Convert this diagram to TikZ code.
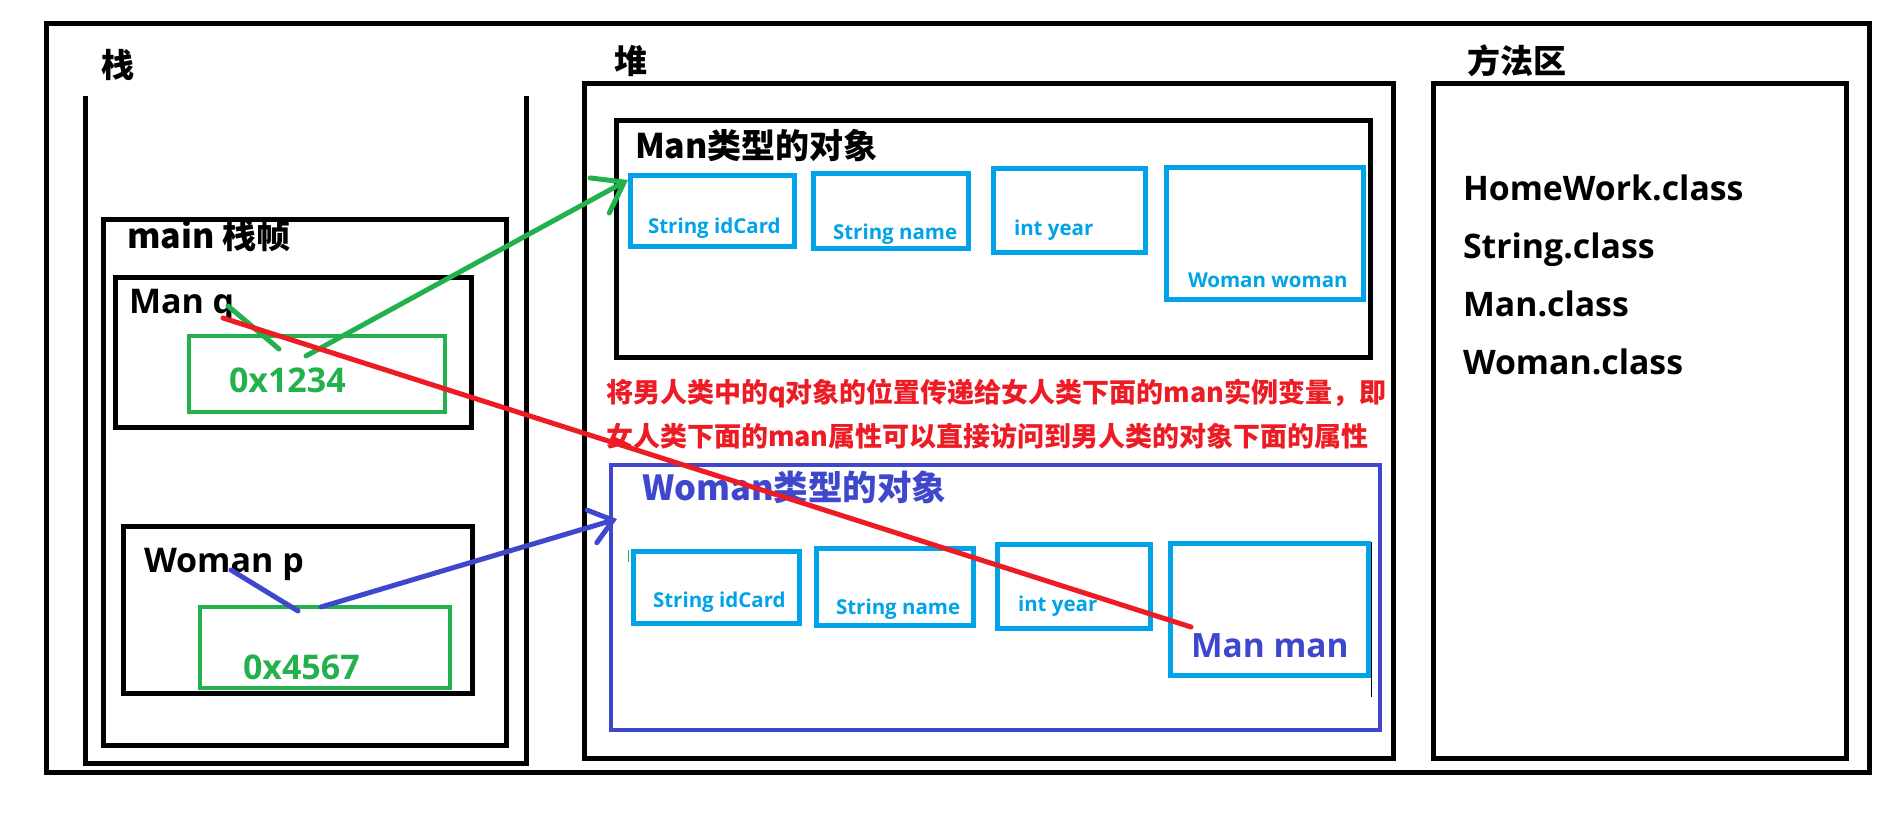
\documentclass[tikz,border=0pt]{standalone}
\usepackage{fontspec}
\setmainfont{Open Sans}
\newfontfamily\cjk{Noto Sans CJK SC}
\usetikzlibrary{arrows.meta}
\definecolor{pgreen}{HTML}{22B14C}
\definecolor{pblue}{HTML}{00A2E8}
\definecolor{pind}{HTML}{3F48CC}
\definecolor{pred}{HTML}{ED1C24}
\tikzset{
  box/.style={rectangle, inner sep=0pt, outer sep=0pt, draw=black, line width=5pt},
  gbox/.style={box, draw=pgreen, line width=4.5pt},
  fbox/.style={box, draw=pblue, line width=5pt},
  ibox/.style={box, draw=pind, line width=4.5pt},
  txt/.style={anchor=base west, inner sep=0pt, outer sep=0pt, font=\bfseries},
  fs/.style={font=\bfseries\fontsize{#1}{#1}\selectfont},
  cj/.style={font=\cjk\bfseries\fontsize{#1}{#1}\selectfont},
  gline/.style={draw=pgreen, line width=5pt, line cap=round},
  iline/.style={draw=pind, line width=5pt, line cap=round},
  rline/.style={draw=pred, line width=5pt, line cap=round},
}
\begin{document}
\begin{tikzpicture}[x=1pt, y=-1pt]
\useasboundingbox (0,0) rectangle (1903,824);
% outer frame
\node[box, minimum width=1823pt, minimum height=748pt] (outer) at (957.5,398) {};
% stack column (open at top)
\draw[line width=5pt] (85,96) -- (85,763) -- (526,763) -- (526,96);
\node[txt, cj=33] (stacklbl) at (101,78) {栈};
% main frame
\node[box, minimum width=403pt, minimum height=526pt] (mainf) at (304.5,482) {};
\node[txt, cj=34] (mainlbl) at (127,248) {main 栈帧};
\node[box, minimum width=356pt, minimum height=150pt] (manq) at (293,352) {};
\node[txt, fs=34] (manqlbl) at (129,313) {Man q};
\node[gbox, minimum width=256pt, minimum height=76pt] (addr1) at (317,374) {};
\node[txt, fs=34, text=pgreen] (addr1lbl) at (229,392) {0x1234};
\node[box, minimum width=349pt, minimum height=167pt] (womanp) at (297.5,609.5) {};
\node[txt, fs=34] (womanplbl) at (144,572) {Woman p};
\node[gbox, minimum width=250pt, minimum height=81pt] (addr2) at (325,647.5) {};
\node[txt, fs=34, text=pgreen] (addr2lbl) at (243,679) {0x4567};
% heap
\node[txt, cj=33] (heaplbl) at (614,74) {堆};
\node[box, minimum width=809pt, minimum height=674pt] (heap) at (988.5,421) {};
\node[box, minimum width=754pt, minimum height=236pt] (manobj) at (993,239) {};
\node[txt, cj=34] (manobjlbl) at (635,158) {Man类型的对象};
\node[fbox, minimum width=164pt, minimum height=71pt] (mf1) at (712,210.5) {};
\node[txt, fs=20.5, text=pblue] (mf1lbl) at (648,233) {String idCard};
\node[fbox, minimum width=155pt, minimum height=75pt] (mf2) at (890.5,210.5) {};
\node[txt, fs=20.5, text=pblue] (mf2lbl) at (833,239) {String name};
\node[fbox, minimum width=152pt, minimum height=84pt] (mf3) at (1069,210) {};
\node[txt, fs=20.5, text=pblue] (mf3lbl) at (1014,235) {int year};
\node[fbox, minimum width=197pt, minimum height=132pt] (mf4) at (1264.5,233) {};
\node[txt, fs=20.5, text=pblue] (mf4lbl) at (1188,287) {Woman woman};
% explanation
\node[txt, cj=27, text=pred] (note1) at (606,402) {将男人类中的q对象的位置传递给女人类下面的man实例变量，即};
\node[txt, cj=27, text=pred] (note2) at (606,446) {女人类下面的man属性可以直接访问到男人类的对象下面的属性};
% woman object
\node[ibox, minimum width=769pt, minimum height=265pt] (womobj) at (995.5,597.5) {};
\node[txt, cj=34.5, text=pind] (womobjlbl) at (642,500) {Woman类型的对象};
\node[fbox, minimum width=166pt, minimum height=72pt] (wf1) at (716,587) {};
\node[txt, fs=20.5, text=pblue] (wf1lbl) at (653,607) {String idCard};
\node[fbox, minimum width=157pt, minimum height=77pt] (wf2) at (894.5,586.5) {};
\node[txt, fs=20.5, text=pblue] (wf2lbl) at (836,614) {String name};
\node[fbox, minimum width=153pt, minimum height=84pt] (wf3) at (1073.5,586) {};
\node[txt, fs=20.5, text=pblue] (wf3lbl) at (1018,611) {int year};
\node[fbox, minimum width=198pt, minimum height=132pt] (wf4) at (1269,609) {};
\node[txt, fs=33.5, text=pind] (wf4lbl) at (1191,657) {Man man};
\draw[line width=1pt] (1371,542) -- (1371,697);
\draw[pgreen, line width=1pt] (628,550) -- (628,562);
% method area
\node[txt, cj=33] (methlbl) at (1467,74) {方法区};
\node[box, minimum width=413pt, minimum height=674pt] (meth) at (1639.5,421) {};
\node[txt, fs=33.8] (c1) at (1463,200) {HomeWork.class};
\node[txt, fs=33.8] (c2) at (1463,258) {String.class};
\node[txt, fs=33.8] (c3) at (1463,316) {Man.class};
\node[txt, fs=33.8] (c4) at (1463,374) {Woman.class};
% connectors
\coordinate (gq) at (228,306);
\coordinate (g1) at (279,349);
\coordinate (g2) at (306,356);
\coordinate (gtip) at (628,180);
\draw[gline] (gq) -- (g1);
\draw[gline, -{Straight Barb[length=28pt, width=40pt, line cap=round]}] (g2) -- (gtip);
\coordinate (iq) at (231,570);
\coordinate (i1) at (298,611);
\coordinate (i2) at (321,607);
\coordinate (itip) at (617,519);
\draw[iline] (iq) -- (i1);
\draw[iline, -{Straight Barb[length=22pt, width=34pt, line cap=round]}] (i2) -- (itip);
\coordinate (rq) at (223,318);
\coordinate (rman) at (1191,627);
\draw[rline] (rq) -- (rman);
\end{tikzpicture}
\end{document}
